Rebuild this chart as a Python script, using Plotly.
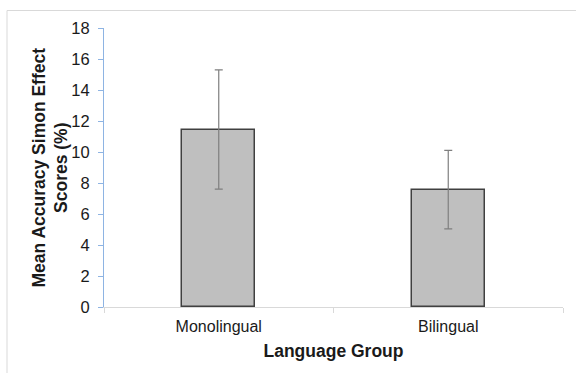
import plotly.graph_objects as go

# Data
groups = ["Monolingual", "Bilingual"]
mean_scores = [11.45, 7.57]
error_values = [3.85, 2.53]
y_ticks = [0, 2, 4, 6, 8, 10, 12, 14, 16, 18]

W, H = 576, 373
L, R, T, B = 104, 13, 28, 66
pw, ph = W - L - R, H - T - B

FONT = "Arial, Liberation Sans, Helvetica, sans-serif"

fig = go.Figure()
fig.add_trace(go.Bar(
    x=groups,
    y=mean_scores,
    width=0.32,
    marker=dict(color="#bfbfbf", line=dict(color="#404040", width=1.5)),
    error_y=dict(type="data", array=error_values, visible=True,
                 color="#7f7f7f", thickness=1.2, width=4),
    showlegend=False,
))

fig.update_layout(
    width=W, height=H,
    margin=dict(l=L, r=R, t=T, b=B),
    paper_bgcolor="white",
    plot_bgcolor="white",
    font=dict(family=FONT, color="#1a1a1a"),
    bargap=0,
)

fig.update_xaxes(
    showline=True, linecolor="#d9d9d9", linewidth=1.2,
    ticks="outside", tickson="boundaries", ticklen=5, tickcolor="#d9d9d9",
    tickfont=dict(size=16, family=FONT, color="#1a1a1a"),
    ticklabelstandoff=5,
    showgrid=False, zeroline=False,
    title=dict(text="<b>Language Group</b>", font=dict(size=17.5, family=FONT, color="#1a1a1a"), standoff=10),
)

fig.update_yaxes(
    range=[0, 18], tickvals=y_ticks,
    showline=True, linecolor="#8eb4e3", linewidth=1.2,
    ticks="outside", ticklen=5, tickcolor="#8eb4e3",
    tickfont=dict(size=16.5, family=FONT, color="#1a1a1a"),
    ticklabelstandoff=5,
    showgrid=False, zeroline=False,
)

# Rotated two-line y-axis title
fig.add_annotation(
    text="<b>Mean Accuracy Simon Effect<br>Scores (%)</b>",
    xref="paper", yref="paper",
    x=(50 - L) / pw, y=0.5,
    xanchor="center", yanchor="middle",
    textangle=-90, showarrow=False,
    font=dict(size=17.5, family=FONT, color="#1a1a1a"),
)

# Light frame around the figure area
fig.add_shape(
    type="rect", xref="paper", yref="paper",
    x0=(7 - L) / pw, x1=1.2,
    y0=-0.5, y1=1 + (T - 10.5) / ph,
    line=dict(color="#d9d9d9", width=1),
    layer="below",
)

fig.write_html("out.html")
